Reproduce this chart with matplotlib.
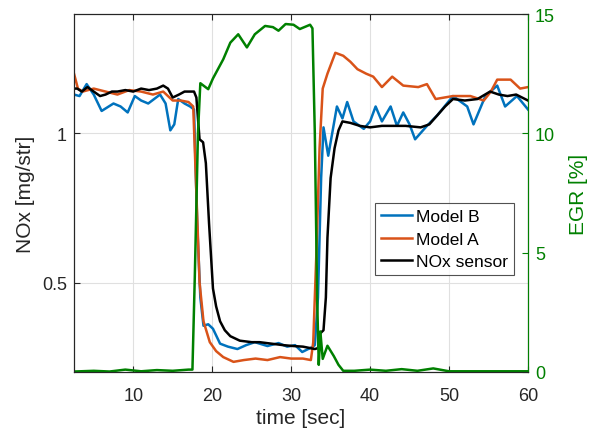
import matplotlib
matplotlib.use("Agg")
import matplotlib.pyplot as plt

plt.rcParams['font.family'] = ['Liberation Sans', 'DejaVu Sans']

# NOx sensor (black)
t_sensor = [2.5, 2.9, 3.5, 4.2, 5.0, 5.8, 6.5, 7.3, 8.0, 9.0, 10.0, 11.0, 12.0, 13.0, 13.8, 14.4, 15.0,
            15.8, 16.5, 17.2, 17.7, 18.0, 18.4, 18.85, 19.2, 19.6, 20.1, 20.5, 21.0, 21.6, 22.3, 23.5,
            25.0, 26.0, 27.5, 29.0, 30.3, 31.5, 33.0, 33.4, 33.7, 34.1, 34.4, 34.6, 35.0, 35.5, 36.0, 36.5,
            37.5, 38.7, 40.0, 41.5, 43.0, 44.5, 46.4, 47.5, 48.5, 49.5, 50.5, 52.0, 53.6, 55.2, 56.3,
            57.4, 58.5, 60.0]
v_sensor = [1.15, 1.15, 1.14, 1.155, 1.14, 1.125, 1.13, 1.14, 1.14, 1.145, 1.14, 1.15, 1.145, 1.15, 1.16, 1.15, 1.12,
            1.13, 1.14, 1.14, 1.14, 1.12, 0.98, 0.97, 0.90, 0.70, 0.48, 0.42, 0.37, 0.34, 0.32, 0.305,
            0.30, 0.30, 0.295, 0.29, 0.287, 0.285, 0.277, 0.28, 0.33, 0.34, 0.45, 0.65, 0.85, 0.95, 1.01, 1.04,
            1.035, 1.025, 1.02, 1.025, 1.025, 1.025, 1.02, 1.03, 1.06, 1.09, 1.115, 1.11, 1.115, 1.14, 1.13,
            1.125, 1.13, 1.11]

# Model A (orange)
t_a = [2.5, 3.0, 3.6, 5.0, 6.5, 8.0, 9.5, 11.0, 12.5, 13.8, 15.0, 16.0, 17.0, 17.6, 18.0, 18.4, 18.9,
       19.7, 20.5, 21.4, 22.7, 24.0, 25.5, 27.0, 28.6, 30.0, 31.5, 32.5, 32.8, 33.2, 33.6, 34.0, 34.6,
       35.6, 36.6, 37.5, 38.4, 39.5, 40.4, 41.5, 42.8, 44.2, 46.1, 47.2, 48.3, 50.5, 52.7, 54.4, 55.3,
       56.1, 57.8, 59.0, 60.0]
v_a = [1.20, 1.15, 1.14, 1.15, 1.14, 1.13, 1.145, 1.14, 1.13, 1.14, 1.11, 1.11, 1.105, 1.09, 0.80, 0.50, 0.37,
       0.30, 0.27, 0.25, 0.234, 0.24, 0.245, 0.24, 0.25, 0.245, 0.245, 0.24, 0.30, 0.60, 0.95, 1.15, 1.20,
       1.27, 1.26, 1.24, 1.215, 1.20, 1.19, 1.155, 1.19, 1.16, 1.155, 1.165, 1.115, 1.125, 1.125, 1.11, 1.14,
       1.18, 1.18, 1.15, 1.155]

# Model B (blue)
t_b = [2.5, 3.2, 4.1, 5.0, 6.0, 7.5, 8.4, 9.3, 10.2, 11.0, 11.9, 13.4, 14.1, 14.7, 15.2, 15.7, 16.5, 17.2,
       17.7, 18.1, 18.5, 18.9, 19.5, 20.1, 21.0, 22.0, 23.2, 24.3, 25.4, 27.0, 28.4, 29.5, 30.5, 31.4,
       32.7, 33.0, 33.4, 33.8, 34.1, 34.7, 35.2, 35.8, 36.5, 37.1, 37.9, 39.2, 40.0, 40.7, 41.5, 42.6,
       43.4, 44.2, 45.0, 45.7, 47.2, 48.5, 50.5, 52.3, 53.1, 54.6, 56.1, 57.1, 58.6, 60.0]
v_b = [1.13, 1.125, 1.165, 1.13, 1.075, 1.10, 1.09, 1.07, 1.125, 1.11, 1.10, 1.13, 1.10, 1.01, 1.03, 1.115, 1.10, 1.09,
       1.08, 0.70, 0.45, 0.355, 0.36, 0.345, 0.295, 0.285, 0.277, 0.29, 0.30, 0.287, 0.297, 0.285, 0.29, 0.267,
       0.284, 0.29, 0.45, 0.85, 1.02, 0.925, 1.00, 1.09, 1.05, 1.105, 1.04, 1.015, 1.04, 1.09, 1.04, 1.09,
       1.025, 1.07, 1.03, 0.98, 1.025, 1.06, 1.125, 1.09, 1.03, 1.125, 1.16, 1.09, 1.125, 1.08]

# EGR (green, right axis)
t_egr = [2.5, 5.0, 7.0, 9.0, 11.0, 13.0, 15.0, 17.0, 17.5, 17.8, 18.2, 18.5, 18.9, 19.5, 20.1, 21.4,
         22.3, 23.3, 24.4, 25.4, 26.7, 27.7, 28.4, 29.3, 30.3, 31.1, 32.4, 32.7, 33.0, 33.3, 33.5,
         33.7, 34.0, 34.6, 35.4, 36.0, 36.6, 38.0, 40.0, 42.0, 44.0, 46.0, 48.0, 50.0, 52.0, 55.0, 60.0]
v_egr = [0.02, 0.05, 0.02, 0.1, 0.03, 0.08, 0.05, 0.1, 0.1, 4.0, 10.0, 12.1, 12.0, 11.85, 12.3, 13.1,
         13.8, 14.15, 13.6, 14.15, 14.5, 14.45, 14.3, 14.58, 14.55, 14.37, 14.55, 14.4, 10.0, 3.0, 0.3,
         1.7, 0.55, 1.1, 0.67, 0.3, 0.05, 0.05, 0.1, 0.05, 0.12, 0.05, 0.15, 0.03, 0.03, 0.03, 0.03]

blue = '#0072BD'
orange = '#D95319'
green = '#008000'
dark = '#262626'

fig = plt.figure(figsize=(5.98, 4.35), dpi=100)
ax = fig.add_axes([74/598, 1 - 373/435, 454/598, 358/435])
ax2 = ax.twinx()

lb, = ax.plot(t_b, v_b, color=blue, lw=1.8, label='Model B')
la, = ax.plot(t_a, v_a, color=orange, lw=1.8, label='Model A')
ls, = ax.plot(t_sensor, v_sensor, color='black', lw=1.8, label='NOx sensor')
ax2.plot(t_egr, v_egr, color=green, lw=1.8)

ax.set_xlim(2.5, 60)
ax.set_ylim(0.2, 1.4)
ax2.set_ylim(0, 15)
ax.set_xticks([10, 20, 30, 40, 50, 60])
ax.set_yticks([0.5, 1])
ax.set_yticklabels(['0.5', '1'])
ax2.set_yticks([0, 5, 10, 15])

ax.grid(True, color='#e0e0e0', lw=0.8)
ax.set_axisbelow(True)
ax.tick_params(direction='in', labelsize=13, colors=dark, top=True, length=4)
ax.tick_params(axis='x', pad=11)
ax.tick_params(axis='y', left=True, right=False, pad=5)
ax2.tick_params(direction='in', labelsize=13, colors=green, length=4, pad=5)
ax2.spines['right'].set_color(green)
ax2.spines['left'].set_color(dark)
for s in ['top', 'bottom']:
    ax2.spines[s].set_color(dark)

ax.set_xlabel('time [sec]', fontsize=15, color=dark, labelpad=3)
ax.set_ylabel('NOx [mg/str]', fontsize=15, color=dark, labelpad=5)
ax2.set_ylabel('EGR [%]', fontsize=15, color=green, labelpad=10)

leg = ax2.legend(handles=[lb, la, ls], loc='upper right', bbox_to_anchor=(0.969, 0.472),
                 fontsize=12.5, frameon=True, fancybox=False, edgecolor=dark,
                 handlelength=1.75, handletextpad=0.25, borderpad=0.35, labelspacing=0.42,
                 borderaxespad=0)
leg.get_frame().set_linewidth(0.8)

fig.savefig('out.png', dpi=100)
